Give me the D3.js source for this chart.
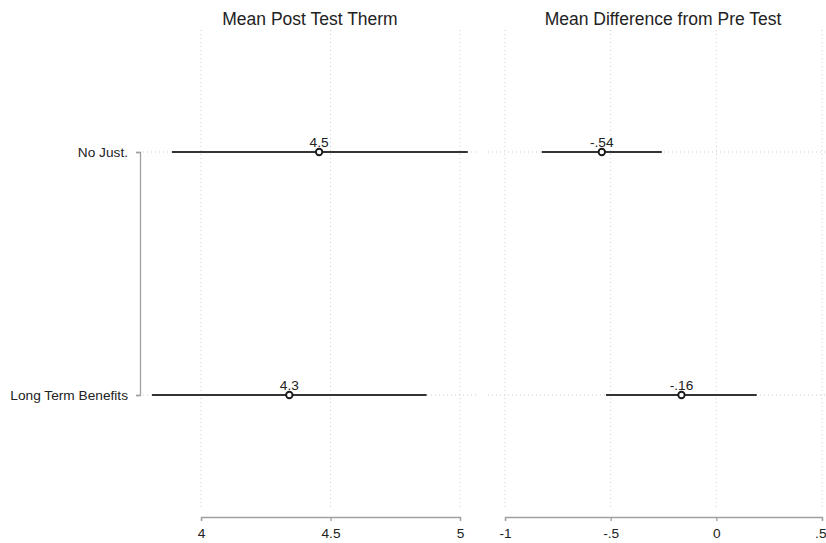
<!DOCTYPE html>
<html>
<head>
<meta charset="utf-8">
<script src="https://cdn.jsdelivr.net/npm/d3@7"></script>
<style>
  body { margin: 0; background: #fff; }
  svg { font-family: "Liberation Sans", Arial, sans-serif; }
</style>
</head>
<body>
<div id="viz"></div>
<script>
// categories, top to bottom
const groups = ["No Just.", "Long Term Benefits"]

// panel 1: mean post test therm
const postMean = [4.456, 4.341]
const postLo = [3.888, 3.811]
const postHi = [5.03, 4.871]
const postLabel = ["4.5", "4.3"]
const postTicks = [4, 4.5, 5]

// panel 2: mean difference from pre test
const diffMean = [-0.542, -0.165]
const diffLo = [-0.826, -0.522]
const diffHi = [-0.258, 0.191]
const diffLabel = ["-.54", "-.16"]
const diffTicks = [-1, -0.5, 0, 0.5]

const width = 826, height = 543
const plotTop = 30, plotBottom = 510, axisY = 517
const fs = 13.7

const svg = d3.select("#viz").append("svg")
    .attr("width", width)
    .attr("height", height)

const y = d3.scalePoint().domain(groups).range([152, 395])

// stata style number format: no leading zero
const fmt = d => {
    let s = String(d)
    return s.replace(/^0\./, ".").replace(/^-0\./, "-.")
}

const panels = [
    { title: "Mean Post Test Therm", x: d3.scaleLinear([4, 5], [201, 460]), left: 143, right: 477,
      mean: postMean, lo: postLo, hi: postHi, lab: postLabel, ticks: postTicks, cx: 310 },
    { title: "Mean Difference from Pre Test", x: d3.scaleLinear([-1, 0.5], [505, 822]), left: 488, right: 826,
      mean: diffMean, lo: diffLo, hi: diffHi, lab: diffLabel, ticks: diffTicks, cx: 663 }
]

panels.forEach(p => {
    const g = svg.append("g")

    // vertical grid
    g.selectAll("line.vg")
        .data(p.ticks)
        .join("line")
        .attr("class", "vg")
        .attr("x1", d => p.x(d)).attr("x2", d => p.x(d))
        .attr("y1", plotTop).attr("y2", plotBottom)
        .attr("stroke", "#cfcfcf")
        .attr("stroke-dasharray", "1,3")

    // horizontal grid
    g.selectAll("line.hg")
        .data(groups)
        .join("line")
        .attr("class", "hg")
        .attr("x1", p.left).attr("x2", p.right)
        .attr("y1", d => y(d)).attr("y2", d => y(d))
        .attr("stroke", "#cfcfcf")
        .attr("stroke-dasharray", "1,3")

    // title
    g.append("text")
        .attr("x", p.cx).attr("y", 25)
        .attr("text-anchor", "middle")
        .attr("font-size", 17.5)
        .attr("fill", "#222")
        .text(p.title)

    // x axis
    const ax = g.append("g")
        .attr("transform", `translate(0,${axisY})`)
        .call(d3.axisBottom(p.x).tickValues(p.ticks).tickFormat(fmt).tickSize(4).tickPadding(7))
    ax.select(".domain").attr("stroke", "#a0a0a0").attr("stroke-width", 1.3)
    ax.selectAll(".tick line").attr("stroke", "#a0a0a0").attr("stroke-width", 1.3)
    ax.selectAll(".tick text").attr("font-size", fs).attr("fill", "#222")
        .filter(d => p.x(d) > width - 8)
        .attr("text-anchor", "end").attr("dx", 4)
    ax.attr("font-family", null)

    // ci lines
    g.selectAll("line.ci")
        .data(groups)
        .join("line")
        .attr("class", "ci")
        .attr("x1", (d, i) => p.x(p.lo[i]))
        .attr("x2", (d, i) => p.x(p.hi[i]))
        .attr("y1", d => y(d)).attr("y2", d => y(d))
        .attr("stroke", "#333")
        .attr("stroke-width", 2)

    // points
    g.selectAll("circle")
        .data(groups)
        .join("circle")
        .attr("cx", (d, i) => p.x(p.mean[i]))
        .attr("cy", d => y(d))
        .attr("r", 3.2)
        .attr("fill", "#fff")
        .attr("stroke", "#1a1a1a")
        .attr("stroke-width", 1.9)

    // value labels
    g.selectAll("text.val")
        .data(groups)
        .join("text")
        .attr("class", "val")
        .attr("x", (d, i) => p.x(p.mean[i]))
        .attr("y", d => y(d) - 5)
        .attr("text-anchor", "middle")
        .attr("font-size", fs)
        .attr("fill", "#222")
        .text((d, i) => p.lab[i])
})

// y axis
const ay = svg.append("g")
    .attr("transform", "translate(140,0)")
    .call(d3.axisLeft(y).tickSize(4).tickPadding(8))
ay.select(".domain").attr("stroke", "#a0a0a0").attr("stroke-width", 1.3)
ay.selectAll(".tick line").attr("stroke", "#a0a0a0").attr("stroke-width", 1.3)
ay.selectAll(".tick text").attr("font-size", fs).attr("fill", "#222")
ay.attr("font-family", null)
</script>
</body>
</html>
